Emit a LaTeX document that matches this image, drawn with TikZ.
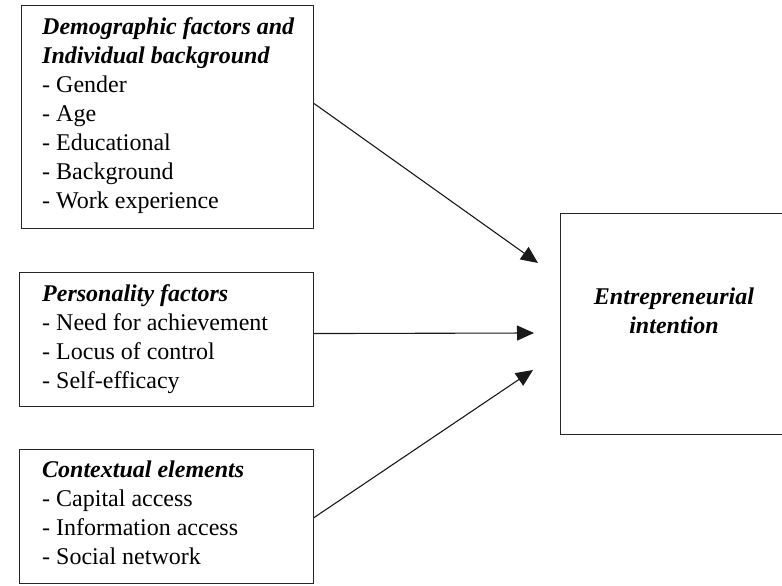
\documentclass[tikz,border=0pt]{standalone}
\usepackage{fontspec}
\setmainfont{Liberation Serif}
\usetikzlibrary{arrows.meta}
\begin{document}
\begin{tikzpicture}[x=1pt,y=-1pt,
  box/.style={draw=black!85, line width=1.1pt, inner sep=0pt, anchor=north west},
  txt/.style={inner sep=0pt, anchor=north west, align=left, font=\fontsize{24}{29}\selectfont},
  link/.style={draw=black!90, line width=1.1pt, -{Triangle[length=17pt,width=15pt]}}]
\useasboundingbox (0,0) rectangle (782,586);
% boxes
\node[box, minimum width=292pt, minimum height=223pt] (b1) at (21,5) {};
\node[box, minimum width=294pt, minimum height=134pt] (b2) at (19,272) {};
\node[box, minimum width=294pt, minimum height=134pt] (b3) at (19,449) {};
\node[box, minimum width=228pt, minimum height=221pt] (b4) at (560,213) {};
% texts
\node[txt] (t1) at (42,17.5) {\textbf{\textit{Demographic factors and}}\\
  \textbf{\textit{Individual background}}\\
  - Gender\\- Age\\- Educational\\- Background\\- Work experience};
\node[txt] (t2) at (42,284.6) {\textbf{\textit{Personality factors}}\\
  - Need for achievement\\- Locus of control\\- Self-efficacy};
\node[txt] (t3) at (42,460.6) {\textbf{\textit{Contextual elements}}\\
  - Capital access\\- Information access\\- Social network};
\node[txt, anchor=north, align=center] (t4) at (674,287.6) {\textbf{\textit{Entrepreneurial}}\\
  \textbf{\textit{intention}}};
% arrow ends
\coordinate (e1) at (538,263);
\coordinate (e2) at (534,333);
\coordinate (e3) at (533,370);
\draw[link] ([yshift=13.5pt]b1.east) -- (e1);
\draw[link] ([yshift=6pt]b2.east) -- (e2);
\draw[link] ([yshift=-1pt]b3.east) -- (e3);
\end{tikzpicture}
\end{document}
